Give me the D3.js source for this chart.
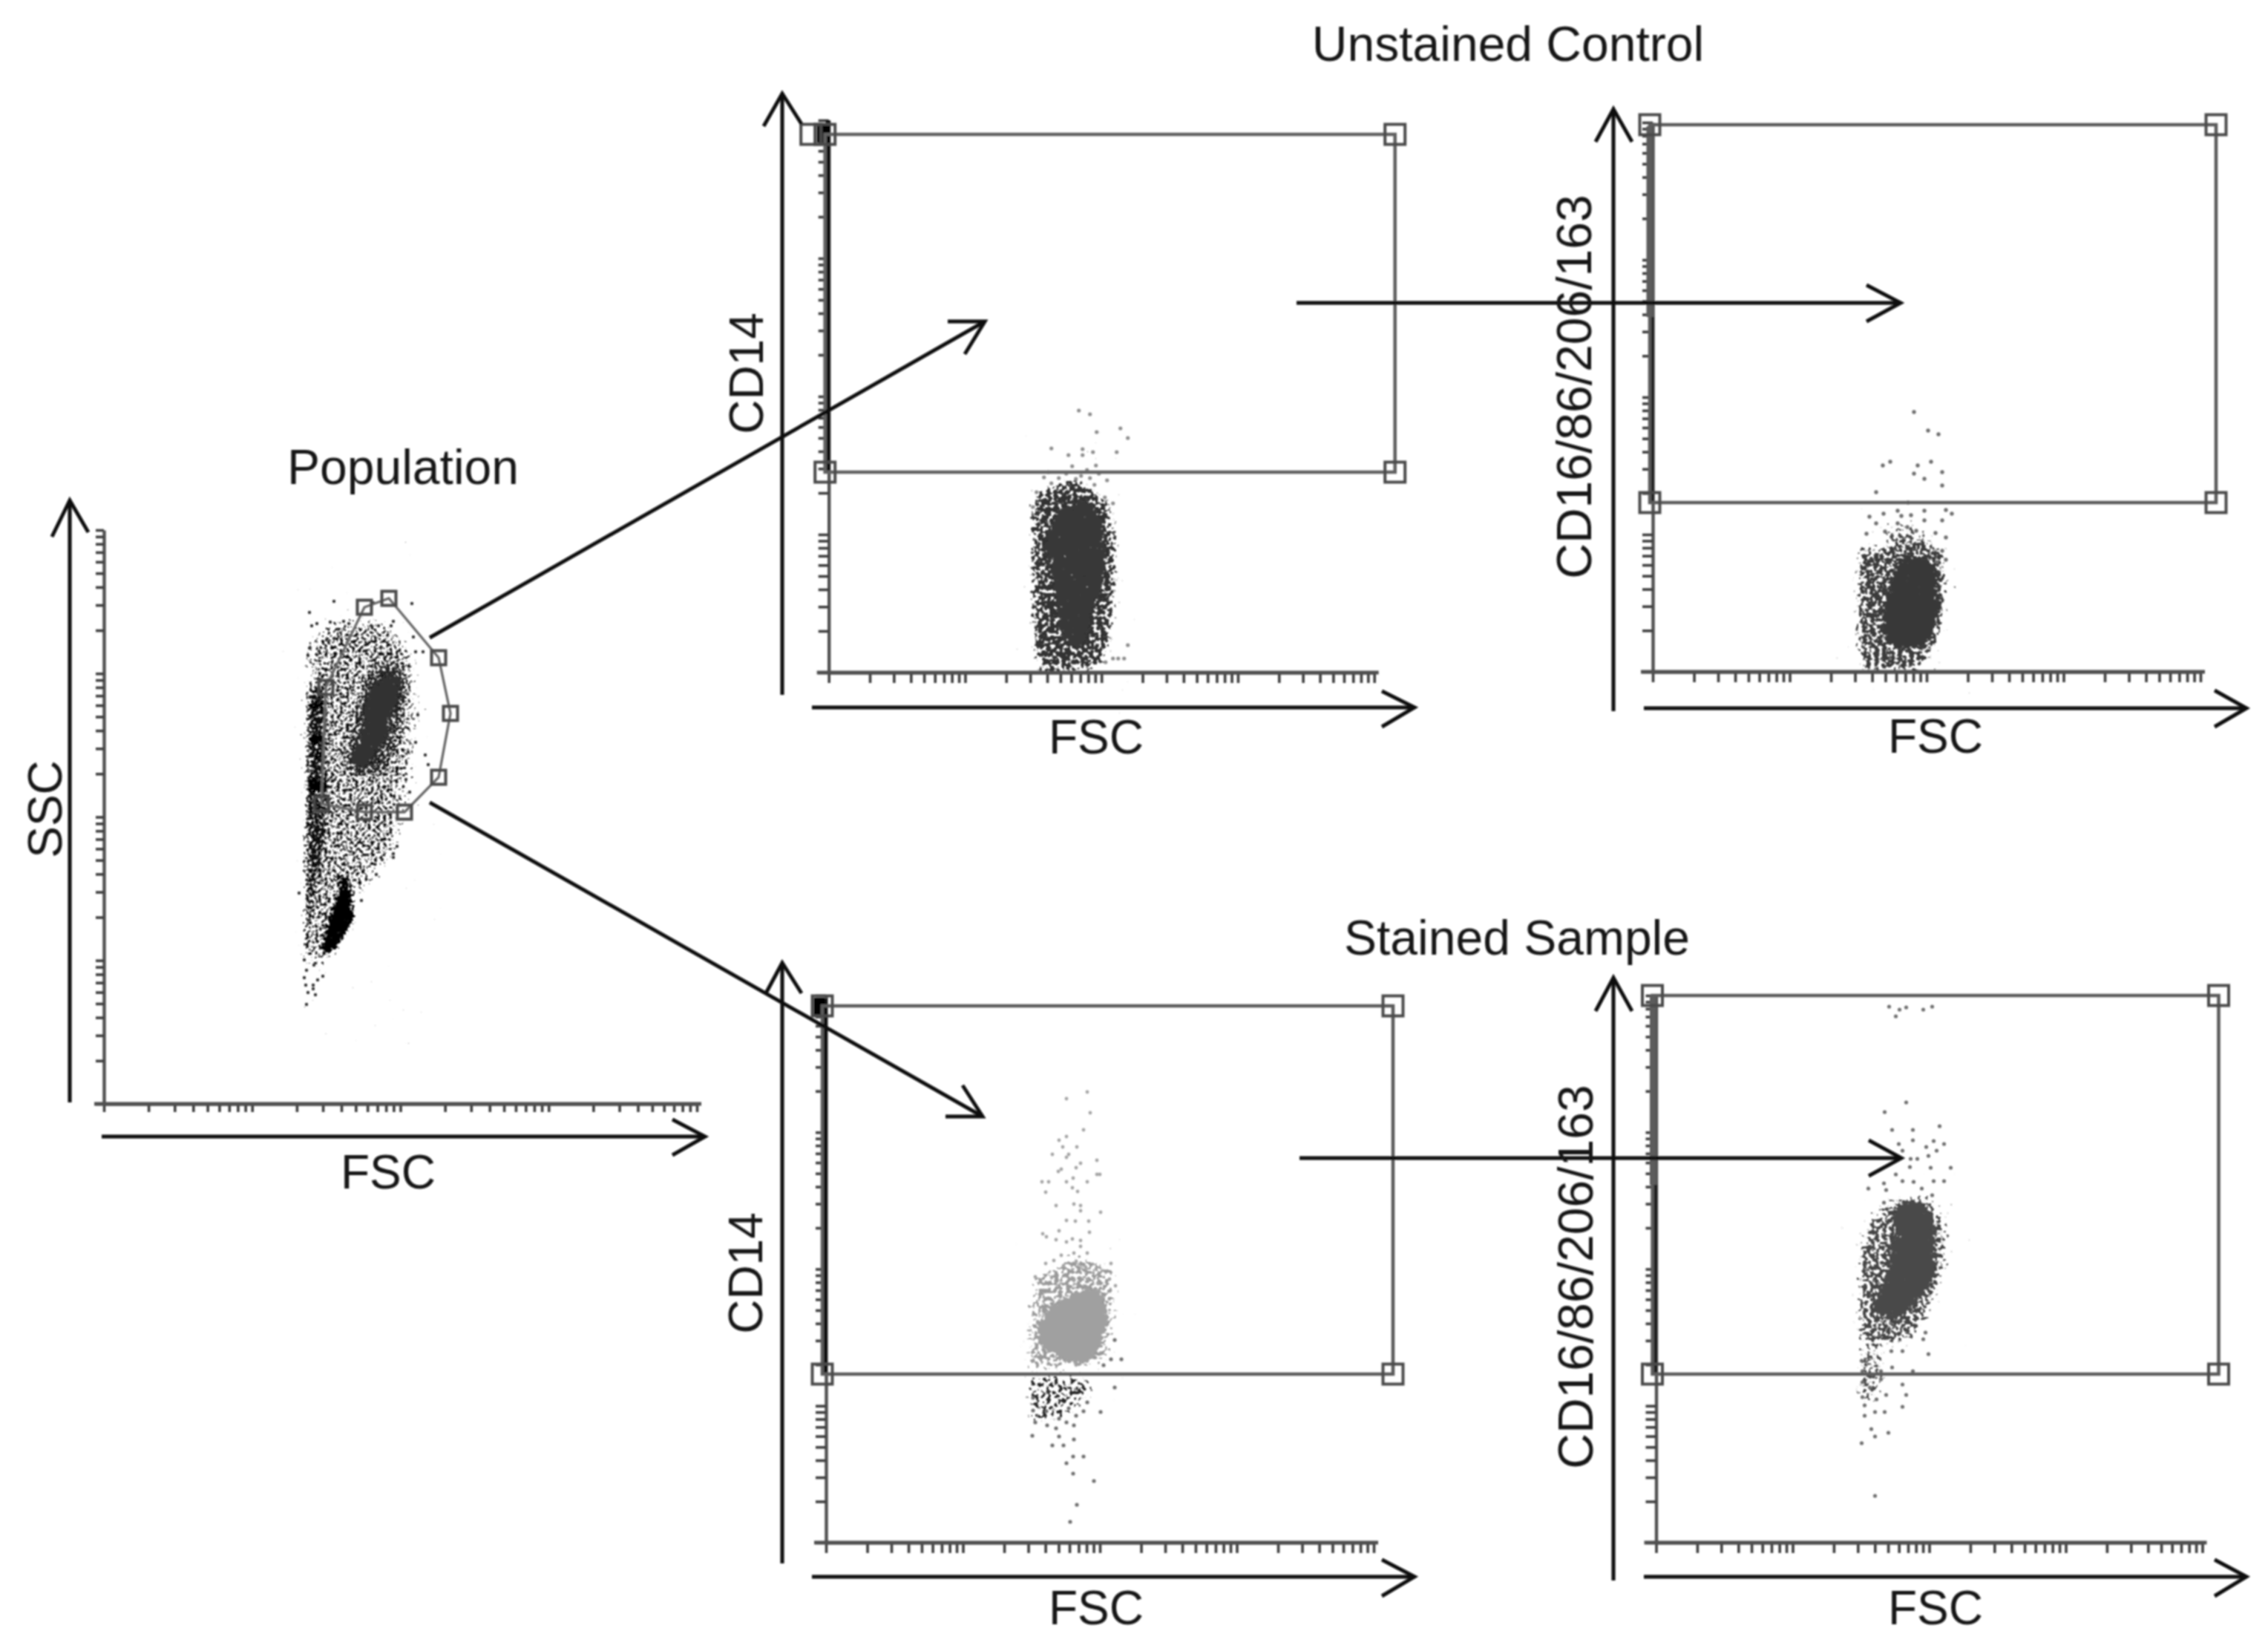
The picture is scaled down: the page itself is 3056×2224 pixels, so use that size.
<!DOCTYPE html>
<html><head><meta charset="utf-8">
<script src="https://cdn.jsdelivr.net/npm/d3@7"></script>
<style>html,body{margin:0;background:#fff}svg{display:block}text{font-family:"Liberation Sans",Arial,sans-serif;fill:#161616}</style>
</head><body>
<script>
// ---------- values: [FSC channel, side/marker channel] ----------
const tickDecades = [1, 10, 100, 1000];
const tickMultipliers = [1, 2, 3, 4, 5, 6, 7, 8, 9];
const axisTop = [10000];

const popGate = [[351,669],[384,681],[451,601],[467,526],[451,440],[405,393],[351,393],[293,404],[299,561]];
const popCore = [[387,580],[400,577],[398,550],[387,520],[383,494],[367,474],[353,454],[340,450],[330,464],[342,487],[350,517],[350,540],[363,567]];
const popDense = [[377,604],[403,607],[413,564],[407,520],[397,490],[387,450],[360,434],[330,440],[317,467],[330,507],[343,557],[360,594]];
const popMedium = [[274,620],[306,652],[351,652],[389,646],[418,601],[421,518],[415,454],[402,378],[392,333],[364,308],[338,276],[306,212],[294,180],[274,187]];
const popStrip = [[273,564],[300,564],[303,407],[300,360],[283,260],[282,200],[270,200],[270,327]];
const popBlots = [
  [[273,544],[300,537],[297,530],[273,534]],
  [[275,494],[298,502],[297,490],[287,484],[275,485]],
  [[285,477],[300,474],[300,460],[288,464]],
  [[275,440],[297,437],[300,420],[275,420]],
  [[317,314],[327,307],[333,280],[338,254],[327,230],[313,210],[297,197],[293,207],[300,240],[310,267],[318,290]]
];
const popSparse = [[277,662],[310,677],[280,644],[287,647],[305,649],[323,650],[330,647],[300,625],[310,627],[415,674],[277,614],[290,610],[275,604],[360,644],[370,644],[390,650],[387,644],[417,629],[420,609],[430,609],[423,524],[433,470],[437,457],[410,474],[420,487],[412,420],[407,437],[363,675],[270,194],[273,180],[270,170],[272,160],[275,150],[285,147],[273,134],[283,187],[295,172],[288,167],[282,160],[282,155],[263,284],[395,347],[390,337],[390,332],[367,309],[347,274],[375,329]];

const unstCd14Gate = [[-5,725],[763,725],[763,270],[-5,270]];
const unstCd14Core = [[297,196],[310,219],[333,233],[357,229],[370,203],[373,176],[373,136],[367,109],[353,76],[350,49],[340,33],[323,36],[310,56],[307,83],[303,116],[297,146],[290,169]];
const unstCd14Env = [[277,243],[333,263],[377,233],[388,176],[387,109],[380,43],[367,10],[347,2],[283,1],[275,43],[273,123],[273,209]];
const unstCd14Sparse = [[337,353],[352,348],[361,324],[393,329],[403,316],[300,302],[323,293],[342,301],[342,293],[356,297],[388,297],[375,259],[328,278],[360,279],[290,263],[280,243],[275,223],[333,261],[348,273],[358,253],[383,228],[372,236],[403,37],[373,14],[383,19],[390,19],[398,19],[320,268],[340,265],[300,255],[310,262],[352,262],[364,268],[296,270]];

const unstCdGate = [[-4,737],[759,737],[759,228],[-4,228]];
const unstCdCore = [[346,158],[370,152],[386,135],[380,108],[390,92],[380,58],[366,35],[346,32],[323,32],[310,52],[310,85],[323,122],[326,142]];
const unstCdEnv = [[276,168],[310,168],[326,178],[360,182],[393,162],[396,108],[386,42],[360,2],[283,0],[275,42],[275,108]];
const unstCdUpper = [[306,195],[360,198],[376,175],[333,168],[306,175]];
const unstCdSparse = [[352,350],[371,325],[385,320],[310,278],[320,283],[357,278],[375,283],[352,267],[366,260],[390,269],[390,251],[301,242],[344,228],[292,209],[311,213],[301,200],[330,217],[348,211],[366,217],[366,204],[390,204],[403,213],[395,218],[330,200],[335,210],[288,186],[313,189],[343,195],[355,190],[395,181],[381,187],[390,163],[395,151],[383,148]];

const stainCd14Gate = [[-5,723],[764,723],[764,227],[-5,227]];
const stainCd14Core = [[344,341],[367,343],[379,316],[379,292],[370,268],[360,249],[340,239],[320,247],[290,262],[284,288],[296,314],[320,328]];
const stainCd14Env = [[280,359],[337,387],[384,375],[390,312],[380,241],[274,231],[270,272],[277,328]];
const stainCd14Low = [[270,227],[350,227],[364,203],[347,189],[330,173],[280,154],[274,181]];
const stainCd14Upper = [[352,607],[324,598],[356,579],[347,556],[314,542],[324,547],[319,533],[338,533],[305,523],[327,523],[324,519],[365,515],[317,503],[313,500],[337,505],[343,511],[369,496],[365,496],[291,486],[300,486],[324,486],[333,491],[352,486],[296,472],[332,478],[339,473],[310,454],[334,456],[343,454],[343,447],[370,445],[324,434],[336,433],[354,433],[314,420],[292,416],[297,412],[355,418],[310,408],[324,405],[332,409],[343,407],[343,399],[352,390],[334,390],[317,387],[296,376],[307,380],[320,373],[337,379],[384,376],[364,369],[350,371],[304,357],[282,358],[334,353],[352,355],[382,355],[390,346]];
const stainCd14Lower = [[389,209],[370,176],[337,171],[347,177],[334,158],[324,162],[314,167],[310,154],[314,143],[305,131],[320,131],[334,139],[333,116],[347,116],[324,107],[333,93],[361,83],[338,51],[329,28],[278,144],[282,162],[279,178],[279,195],[297,177],[298,158],[327,181],[352,189],[384,247],[398,247],[389,273],[374,239]];

const stainCdGate = [[-5,737],[758,737],[758,227],[-5,227]];
const stainCdCore = [[332,461],[358,461],[375,434],[375,390],[377,363],[362,336],[342,314],[325,298],[295,309],[292,323],[312,367],[315,399],[325,421],[315,434]];
const stainCdEnv = [[312,461],[368,466],[392,425],[392,381],[378,336],[362,300],[345,274],[308,265],[278,256],[272,292],[272,390],[285,430]];
const stainCdLow = [[273,262],[308,262],[305,202],[278,180],[273,202]];
const stainCdSparse = [[314,722],[323,709],[328,718],[337,721],[360,718],[372,722],[337,593],[308,580],[318,556],[346,556],[382,561],[346,542],[327,537],[332,528],[364,533],[374,541],[388,537],[378,528],[367,521],[343,517],[352,517],[370,505],[397,505],[342,506],[323,496],[332,487],[374,487],[388,487],[286,477],[307,484],[310,475],[347,486],[358,477],[372,468],[307,458],[367,254],[363,283],[360,274],[332,258],[317,258],[318,236],[346,231],[277,245],[278,231],[303,231],[278,216],[303,220],[288,209],[332,213],[337,199],[332,183],[310,199],[297,193],[278,196],[281,185],[281,171],[295,176],[308,176],[290,153],[295,143],[313,148],[277,134],[295,63]];

// events stacked up on the vertical axis: [from, to] in marker channels
const unstCd14Pile = [[270,744]];
const stainCd14Pile = [[227,733]];
const unstCdPileUpper = [[478,735]];
const unstCdPileLower = [[229,478]];
const stainCdPileUpper = [[482,737]];
const stainCdPileLower = [[227,482]];
const unstCd14Blob = [[714,739]];
const stainCd14Blob = [[711,734]];

const axisLabels = { x: "FSC", pop: "SSC", cd14: "CD14", cd: "CD16/86/206/163" };
const titles = ["Population", "Unstained Control", "Stained Sample"];

// ---------- layout ----------
const W = 3056, H = 2224;
const svg = d3.select("body").append("svg").attr("width", W).attr("height", H).attr("viewBox", `0 0 ${W} ${H}`);
svg.append("rect").attr("width", W).attr("height", H).attr("fill", "#fff");
const defs = svg.append("defs");
const soft = defs.append("filter").attr("id", "soft").attr("filterUnits", "userSpaceOnUse")
  .attr("x", 0).attr("y", 0).attr("width", W).attr("height", H);
soft.append("feGaussianBlur").attr("stdDeviation", 1.0);

// density texture: a traced region fades at its edge and breaks up into grain
let fid = 0;
function grain(colour, density, spread, freq, seed) {
  const c = d3.rgb(colour), id = "gr" + (fid++);
  const f = defs.append("filter").attr("id", id).attr("x", "-25%").attr("y", "-25%").attr("width", "150%").attr("height", "150%")
    .attr("color-interpolation-filters", "sRGB");
  f.append("feTurbulence").attr("type", "fractalNoise").attr("baseFrequency", freq).attr("numOctaves", 2).attr("seed", seed).attr("result", "n");
  f.append("feColorMatrix").attr("in", "n").attr("type", "matrix").attr("values", "0 0 0 0 0 0 0 0 0 0 0 0 0 0 0 1 0 0 0 0").attr("result", "na");
  f.append("feGaussianBlur").attr("in", "SourceAlpha").attr("stdDeviation", spread).attr("result", "b");
  f.append("feComposite").attr("in", "na").attr("in2", "b").attr("operator", "arithmetic")
    .attr("k1", 0).attr("k2", 1).attr("k3", density).attr("k4", -0.85).attr("result", "s");
  f.append("feColorMatrix").attr("in", "s").attr("type", "matrix")
    .attr("values", `0 0 0 0 ${c.r/255} 0 0 0 0 ${c.g/255} 0 0 0 0 ${c.b/255} 0 0 0 14 0`);
  return `url(#${id})`;
}

const root = svg.append("g").attr("filter", "url(#soft)");
const lineGen = d3.line();

function panel(o) {
  const g = root.append("g");
  const x = d3.scaleLinear().domain([0, o.xSpan]).range([o.x0, o.x0 + o.xSpan]);
  const y = d3.scaleLinear().domain([0, o.ySpan]).range([o.y0, o.y0 - o.ySpan]);
  const xLog = d3.scaleLog().domain([1, 10000]).range(x.range());
  const yLog = d3.scaleLog().domain([1, 10000]).range(y.range());
  const tv = tickDecades.flatMap(d => tickMultipliers.map(m => d * m)).concat(axisTop);
  const path = pts => lineGen(pts.map(p => [x(p[0]), y(p[1])])) + "Z";

  (o.areas || []).forEach(a => {
    g.append("path").attr("d", path(a.pts)).attr("fill", "#000")
      .attr("filter", grain(a.colour, a.density, a.spread, a.freq || 0.19, a.seed));
  });
  (o.points || []).forEach(s => {
    g.append("g").selectAll("circle").data(s.pts).join("circle")
      .attr("cx", d => x(d[0])).attr("cy", d => y(d[1])).attr("r", s.r).attr("fill", s.colour);
  });

  const ax = g.append("g").attr("transform", `translate(0,${o.y0})`)
    .call(d3.axisBottom(xLog).tickValues(tv).tickFormat("").tickSize(o.tick).tickSizeOuter(0));
  const ay = g.append("g").attr("transform", `translate(${o.x0},0)`)
    .call(d3.axisLeft(yLog).tickValues(tv).tickFormat("").tickSize(o.tick).tickSizeOuter(0));
  [ax, ay].forEach(a => {
    a.selectAll("line").attr("stroke", "#3c3c3c").attr("stroke-width", 3.6);
    a.select(".domain").attr("stroke", "#505050").attr("stroke-width", 4.4);
  });
  g.append("line").attr("x1", x(-o.tick - 2)).attr("x2", x(o.xSpan + 6)).attr("y1", y(0)).attr("y2", y(0))
    .attr("stroke", "#505050").attr("stroke-width", 5);

  (o.piles || []).forEach(p => {
    g.append("g").selectAll("line").data(p.ranges).join("line")
      .attr("x1", x(p.at)).attr("x2", x(p.at))
      .attr("y1", d => y(d[0])).attr("y2", d => y(d[1]))
      .attr("stroke", p.colour).attr("stroke-width", p.width);
  });

  if (o.gate) {
    g.append("path").attr("d", path(o.gate)).attr("fill", "none").attr("stroke", o.gateColour).attr("stroke-width", o.gateWidth);
    const hs = o.gate.concat(o.extraHandles || []);
    g.append("g").selectAll("rect").data(hs).join("rect")
      .attr("x", d => x(d[0]) - o.handle / 2).attr("y", d => y(d[1]) - o.handle / 2)
      .attr("width", o.handle).attr("height", o.handle)
      .attr("fill", "none").attr("stroke", o.handleColour).attr("stroke-width", 4);
  }
}

panel({ x0: 140, y0: 1487, xSpan: 799, ySpan: 773, tick: 11,
  gate: popGate, gateColour: "#6a6a6a", handleColour: "#484848", gateWidth: 3.4, handle: 19,
  areas: [
    { pts: popMedium, colour: "#111", density: 0.345, spread: 9, seed: 4, freq: 0.24 },
    { pts: popStrip, colour: "#0a0a0a", density: 0.46, spread: 5, seed: 9, freq: 0.24 },
    { pts: popDense, colour: "#262626", density: 0.44, spread: 9, seed: 7, freq: 0.24 },
    { pts: popCore, colour: "#333", density: 0.72, spread: 5, seed: 5, freq: 0.24 },
    ...popBlots.map((b, i) => ({ pts: b, colour: "#050505", density: 0.72, spread: 4, seed: 30 + i, freq: 0.24 }))
  ],
  points: [{ pts: popSparse, r: 2.2, colour: "#333" }]
});

panel({ x0: 1116.7, y0: 906, xSpan: 735, ySpan: 744, tick: 14,
  gate: unstCd14Gate, gateColour: "#606060", handleColour: "#4a4a4a", gateWidth: 4.6, handle: 27, extraHandles: [[-24, 725]],
  areas: [
    { pts: unstCd14Env, colour: "#333", density: 0.47, spread: 6, seed: 11 },
    { pts: unstCd14Core, colour: "#383838", density: 0.68, spread: 4, seed: 12 }
  ],
  points: [{ pts: unstCd14Sparse, r: 2.6, colour: "#8c8c8c" }],
  piles: [
    { at: -1, ranges: unstCd14Pile, colour: "#0a0a0a", width: 6 },
    { at: -8, ranges: unstCd14Blob, colour: "#050505", width: 16 }
  ]
});

panel({ x0: 2227, y0: 905, xSpan: 738, ySpan: 740, tick: 14,
  gate: unstCdGate, gateColour: "#5c5c5c", handleColour: "#4a4a4a", gateWidth: 4.6, handle: 27,
  areas: [
    { pts: unstCdUpper, colour: "#4a4a4a", density: 0.38, spread: 8, seed: 21 },
    { pts: unstCdEnv, colour: "#3a3a3a", density: 0.44, spread: 6, seed: 13 },
    { pts: unstCdCore, colour: "#383838", density: 0.72, spread: 4, seed: 14 }
  ],
  points: [{ pts: unstCdSparse, r: 2.7, colour: "#6e6e6e" }],
  piles: [
    { at: -4, ranges: unstCdPileUpper, colour: "#5a5a5a", width: 9 },
    { at: -1, ranges: unstCdPileLower, colour: "#1c1c1c", width: 5.5 }
  ]
});

panel({ x0: 1113, y0: 2078, xSpan: 738, ySpan: 737, tick: 14,
  gate: stainCd14Gate, gateColour: "#5c5c5c", handleColour: "#4a4a4a", gateWidth: 4.6, handle: 27,
  areas: [
    { pts: stainCd14Low, colour: "#262626", density: 0.34, spread: 6, seed: 17 },
    { pts: stainCd14Env, colour: "#9a9a9a", density: 0.41, spread: 7, seed: 15 },
    { pts: stainCd14Core, colour: "#a0a0a0", density: 0.78, spread: 5, seed: 16 }
  ],
  points: [
    { pts: stainCd14Upper, r: 2.4, colour: "#a4a4a4" },
    { pts: stainCd14Lower, r: 2.6, colour: "#6e6e6e" }
  ],
  piles: [
    { at: -1, ranges: stainCd14Pile, colour: "#0a0a0a", width: 6 },
    { at: -9, ranges: stainCd14Blob, colour: "#050505", width: 15 }
  ]
});

panel({ x0: 2231.5, y0: 2078, xSpan: 736, ySpan: 737, tick: 14,
  gate: stainCdGate, gateColour: "#5c5c5c", handleColour: "#4a4a4a", gateWidth: 4.6, handle: 27,
  areas: [
    { pts: stainCdLow, colour: "#4a4a4a", density: 0.36, spread: 6, seed: 19 },
    { pts: stainCdEnv, colour: "#444", density: 0.42, spread: 7, seed: 23 },
    { pts: stainCdCore, colour: "#4a4a4a", density: 0.74, spread: 5, seed: 24 }
  ],
  points: [{ pts: stainCdSparse, r: 2.6, colour: "#6e6e6e" }],
  piles: [
    { at: -4, ranges: stainCdPileUpper, colour: "#5a5a5a", width: 9 },
    { at: -1, ranges: stainCdPileLower, colour: "#1c1c1c", width: 5.5 }
  ]
});

// arrows: page annotations, each [shaft start, tip, barb, barb]
const arrows = [
  [[94,1485],[94,674],[70,723],[119,717]],
  [[137,1531],[950,1531],[906,1508],[906,1556]],
  [[1054,936],[1054,126],[1029,170],[1080,167]],
  [[1094,953],[1906,953],[1862,931],[1862,979]],
  [[2174,958],[2174,147],[2150,191],[2199,191]],
  [[2215,954],[3027,954],[2984,930],[2984,979]],
  [[1054,2106],[1054,1297],[1032,1338],[1080,1338]],
  [[1094,2124],[1906,2124],[1862,2101],[1862,2150]],
  [[2174,2129],[2174,1317],[2150,1362],[2199,1362]],
  [[2215,2124],[3027,2124],[2984,2101],[2984,2150]],
  [[579,859],[1327,433],[1277,433],[1300,477]],
  [[579,1081],[1324,1504],[1274,1504],[1297,1462]],
  [[1747,408],[2561,408],[2515,384],[2515,433]],
  [[1751,1560],[2562,1560],[2518,1536],[2518,1584]]
];
const ag = root.append("g").attr("fill", "none").attr("stroke", "#0c0c0c").attr("stroke-width", 5);
arrows.forEach(([s, t, a, b]) => {
  ag.append("path").attr("d", lineGen([s, t]));
  ag.append("path").attr("d", lineGen([a, t, b]));
});

// text
const tg = root.append("g");
const horiz = [
  [axisLabels.x, 523, 1601, 64], [axisLabels.x, 1477, 1015, 64], [axisLabels.x, 2608, 1014, 64],
  [axisLabels.x, 1477, 2188, 64], [axisLabels.x, 2608, 2188, 64],
  [titles[0], 543, 652, 66], [titles[1], 2032, 82, 66], [titles[2], 2044, 1286, 66]
];
horiz.forEach(([t, x, y, s]) => tg.append("text").attr("x", x).attr("y", y).attr("font-size", s).attr("text-anchor", "middle").text(t));
const vert = [
  [axisLabels.pop, 83, 1090, 64], [axisLabels.cd14, 1028, 503, 64], [axisLabels.cd14, 1027, 1715, 64],
  [axisLabels.cd, 2144, 521, 66], [axisLabels.cd, 2146, 1720, 66]
];
vert.forEach(([t, x, y, s]) => tg.append("text").attr("transform", `translate(${x},${y}) rotate(-90)`).attr("font-size", s).attr("text-anchor", "middle").text(t));
</script>
</body></html>
